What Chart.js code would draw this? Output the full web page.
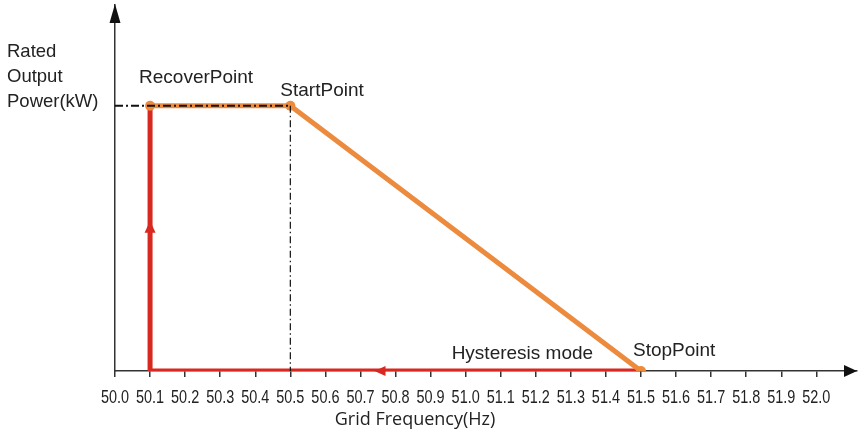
<!DOCTYPE html>
<html>
<head>
<meta charset="utf-8">
<script src="https://cdn.jsdelivr.net/npm/chart.js@4.4.1/dist/chart.umd.min.js"></script>
<style>
  html, body { margin: 0; padding: 0; background: #fff; }
  canvas { display: block; }
</style>
</head>
<body>
<canvas id="hysteresisChart" width="862" height="433"></canvas>
<script>
// Derating curve: recover -> start -> stop (frequency in Hz, power in % of rated)
const curveFreq = [50.1, 50.5, 51.5];
const curvePower = [100, 100, 0];
const curveNames = ['RecoverPoint', 'StartPoint', 'StopPoint'];

// Hysteresis return path: stop point back along 0 kW, then up at the recover point
const returnFreq = [51.5, 50.1, 50.1];
const returnPower = [0, 0, 100];

// Dash-dot guides for rated power and the start frequency
const ratedGuideFreq = [50.0, 50.5];
const ratedGuidePower = [100, 100];
const startGuideFreq = [50.5, 50.5];
const startGuidePower = [100, 0];

// Direction arrows on the return path [freq, power, direction]
const returnArrows = [[50.1, 54, 'up'], [50.76, 0, 'left']];

// Axis range and labels
const freqMin = 50.0;
const freqLastTick = 52.0;
const freqMax = 52.116;
const powerMax = 138;
const xTitle = 'Grid Frequency(Hz)';
const yTitleLines = ['Rated', 'Output', 'Power(kW)'];
const modeLabel = 'Hysteresis mode';
const modeLabelAt = [50.96, 0];

const ORANGE = '#ec8a3e';
const RED = '#d8281f';
const AXIS = '#333';
const TEXT = '#222';
const LABEL_FONT = '19px "Liberation Sans", Arial, sans-serif';

const toXY = (xs, ys) => xs.map((x, i) => ({ x: x, y: ys[i] }));

// where each point name sits relative to its marker
const nameOffsets = [[-11, -23], [-10, -10], [-8, -15]];

const annotatePlugin = {
    id: 'annotate',
    afterDatasetsDraw(chart) {
        const ctx = chart.ctx;
        const xs = chart.scales.x, ys = chart.scales.y;
        const area = chart.chartArea;
        ctx.save();

        // arrowheads on both axes
        ctx.fillStyle = '#111';
        const ax = area.left, ay = area.bottom;
        ctx.beginPath();
        ctx.moveTo(ax, area.top - 1);
        ctx.lineTo(ax - 5.5, area.top + 18);
        ctx.lineTo(ax + 5.5, area.top + 18);
        ctx.closePath();
        ctx.fill();
        ctx.beginPath();
        ctx.moveTo(area.right, ay);
        ctx.lineTo(area.right - 13, ay - 6);
        ctx.lineTo(area.right - 13, ay + 6);
        ctx.closePath();
        ctx.fill();

        // arrows along the return path
        ctx.fillStyle = RED;
        returnArrows.forEach(([f, p, dir]) => {
            const px = xs.getPixelForValue(f), py = ys.getPixelForValue(p);
            ctx.beginPath();
            if (dir === 'up') {
                ctx.moveTo(px, py - 7);
                ctx.lineTo(px - 5.5, py + 5);
                ctx.lineTo(px + 5.5, py + 5);
            } else {
                ctx.moveTo(px - 7, py);
                ctx.lineTo(px + 4, py - 5);
                ctx.lineTo(px + 4, py + 5);
            }
            ctx.closePath();
            ctx.fill();
        });

        // point names
        ctx.font = LABEL_FONT;
        ctx.fillStyle = TEXT;
        ctx.textAlign = 'left';
        ctx.textBaseline = 'alphabetic';
        curveNames.forEach((name, i) => {
            const px = xs.getPixelForValue(curveFreq[i]);
            const py = ys.getPixelForValue(curvePower[i]);
            ctx.fillText(name, px + nameOffsets[i][0], py + nameOffsets[i][1]);
        });
        ctx.fillText(modeLabel, xs.getPixelForValue(modeLabelAt[0]), ys.getPixelForValue(modeLabelAt[1]) - 12);

        // y axis title, stacked on the left
        ctx.font = '18.5px "Liberation Sans", Arial, sans-serif';
        yTitleLines.forEach((line, i) => ctx.fillText(line, 7, 57 + i * 25));

        // x tick labels in a narrow face
        ctx.font = '19px "Liberation Sans", Arial, sans-serif';
        ctx.textAlign = 'center';
        xs.ticks.forEach((t, i) => {
            const px = xs.getPixelForTick(i);
            ctx.save();
            ctx.translate(px, area.bottom + 31.5);
            ctx.scale(0.76, 1);
            ctx.fillText(t.value.toFixed(1), 0, 0);
            ctx.restore();
        });

        // x axis title
        ctx.font = '18px "Open Sans", sans-serif';
        ctx.fillText(xTitle, 415, 425);
        ctx.restore();
    }
};

new Chart(document.getElementById('hysteresisChart'), {
    type: 'line',
    data: {
        datasets: [
            {
                data: toXY(ratedGuideFreq, ratedGuidePower),
                borderColor: '#111',
                borderWidth: 2,
                borderDash: [8, 3, 2, 3],
                pointRadius: 0
            },
            {
                data: toXY(startGuideFreq, startGuidePower),
                borderColor: '#111',
                borderWidth: 1.2,
                borderDash: [7, 3, 1.5, 3],
                pointRadius: 0
            },
            {
                data: toXY(curveFreq, curvePower),
                borderColor: ORANGE,
                backgroundColor: ORANGE,
                borderWidth: 5,
                pointRadius: 5,
                pointBorderWidth: 0,
                pointBackgroundColor: ORANGE
            },
            {
                data: toXY(returnFreq, returnPower),
                borderColor: RED,
                borderWidth: 5,
                borderCapStyle: 'butt',
                borderJoinStyle: 'miter',
                pointRadius: 0
            }
        ]
    },
    options: {
        responsive: false,
        devicePixelRatio: 1,
        animation: false,
        layout: { padding: { left: 115, top: 4, right: 0, bottom: 0 } },
        plugins: {
            legend: { display: false },
            tooltip: { enabled: false }
        },
        elements: { line: { tension: 0, fill: false } },
        scales: {
            x: {
                type: 'linear',
                min: freqMin,
                max: freqMax,
                afterFit: s => { s.height = 62; },
                afterBuildTicks: s => {
                    s.ticks = s.ticks.filter(t => t.value <= freqLastTick + 1e-6);
                },
                ticks: { display: false, stepSize: 0.1, autoSkip: false },
                grid: { drawOnChartArea: false, drawTicks: true, tickLength: 6, color: AXIS, lineWidth: 1.5 },
                border: { color: AXIS, width: 1.5 }
            },
            y: {
                type: 'linear',
                min: 0,
                max: powerMax,
                afterFit: s => { s.width = 0; },
                ticks: { display: false },
                grid: { drawOnChartArea: false, drawTicks: false },
                border: { color: AXIS, width: 1.5 }
            }
        }
    },
    plugins: [annotatePlugin]
});
</script>
</body>
</html>
